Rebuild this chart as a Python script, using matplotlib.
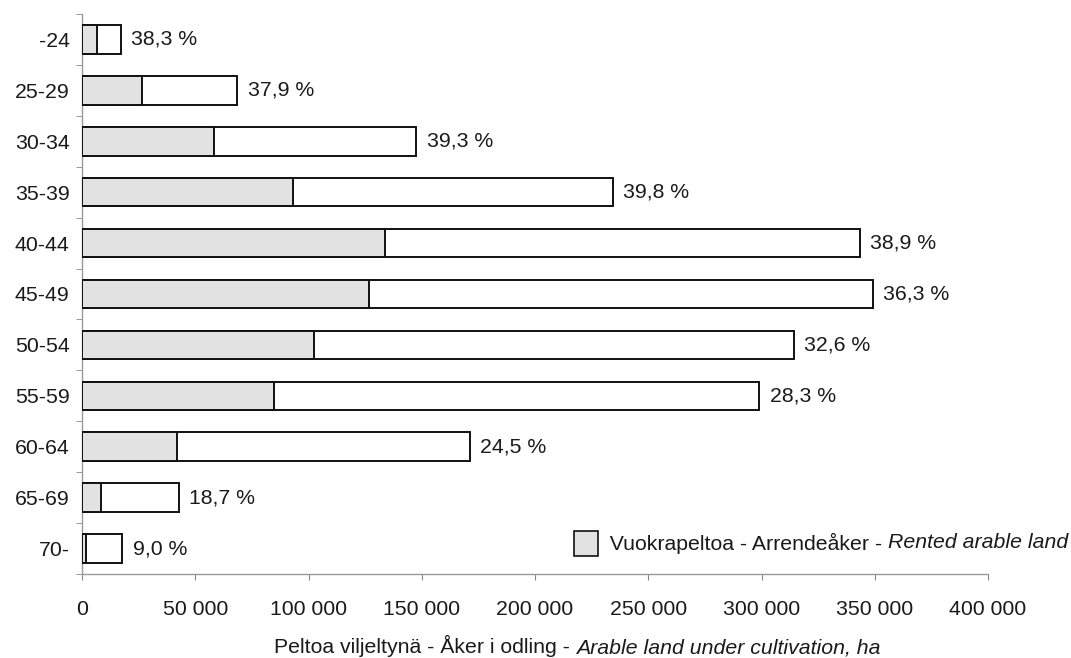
import matplotlib
matplotlib.use("Agg")
import matplotlib.pyplot as plt
from matplotlib.offsetbox import TextArea, HPacker, DrawingArea, AnchoredOffsetbox
from matplotlib.patches import Rectangle
from matplotlib.ticker import FixedLocator

plt.rcParams['font.family'] = ['Liberation Sans', 'DejaVu Sans']

categories = ["-24", "25-29", "30-34", "35-39", "40-44", "45-49",
              "50-54", "55-59", "60-64", "65-69", "70-"]
total_land = [17100, 68600, 147500, 234300, 343400, 349100,
              314200, 299000, 171300, 42800, 17800]
rented_land = [6600, 26500, 58200, 93300, 133900, 126600,
               102300, 84700, 41900, 8200, 1600]
pct_labels = ["38,3 %", "37,9 %", "39,3 %", "39,8 %", "38,9 %", "36,3 %",
              "32,6 %", "28,3 %", "24,5 %", "18,7 %", "9,0 %"]
x_ticks = [0, 50000, 100000, 150000, 200000, 250000, 300000, 350000, 400000]
x_tick_labels = ["0", "50 000", "100 000", "150 000", "200 000",
                 "250 000", "300 000", "350 000", "400 000"]

FS = 15.3
TC = "#1a1a1a"
fig = plt.figure(figsize=(10.71, 6.58), dpi=100)
ax = fig.add_axes([0.0766, 0.1277, 0.8459, 0.8510])

n = len(categories)
ypos = list(range(n))
h = 0.56
ax.barh(ypos, total_land, height=h, color="white", edgecolor="#111111", linewidth=1.4, zorder=2)
ax.barh(ypos, rented_land, height=h, color="#e2e2e2", edgecolor="#111111", linewidth=1.4, zorder=3)

for y, t, lab in zip(ypos, total_land, pct_labels):
    ax.annotate(lab, xy=(t, y), xytext=(7.5, 0), textcoords="offset points",
                va="center", ha="left", fontsize=FS, color=TC)

ax.set_xlim(0, 400000)
ax.set_ylim(n - 0.5, -0.5)
ax.set_xticks(x_ticks)
ax.set_xticklabels(x_tick_labels, fontsize=FS, color=TC)
ax.set_yticks(ypos)
ax.set_yticklabels(categories, fontsize=FS, color=TC)
ax.tick_params(axis="y", which="major", length=0, pad=9)
ax.yaxis.set_minor_locator(FixedLocator([i - 0.5 for i in range(n + 1)]))
ax.tick_params(axis="y", which="minor", length=4, color="#888888", direction="out")
ax.tick_params(axis="x", length=4, color="#888888", direction="out", pad=15)
for s in ["top", "right"]:
    ax.spines[s].set_visible(False)
for s in ["left", "bottom"]:
    ax.spines[s].set_color("#999999")
    ax.spines[s].set_linewidth(1.0)

# x label with italic part
xl = HPacker(children=[
    TextArea("Peltoa viljeltynä - Åker i odling - ", textprops=dict(fontsize=FS, color=TC)),
    TextArea("Arable land under cultivation, ha", textprops=dict(fontsize=FS, color=TC, style="italic")),
], align="baseline", pad=0, sep=0)
box = AnchoredOffsetbox(loc="center", child=xl, frameon=False,
                        bbox_to_anchor=(577 / 1071, 1 - 646 / 658),
                        bbox_transform=fig.transFigure, pad=0, borderpad=0)
fig.add_artist(box)

# legend
da = DrawingArea(17, 18, 0, 0)
da.add_artist(Rectangle((0, 0), 17, 18, facecolor="#e2e2e2", edgecolor="#111111", linewidth=1.2))
lg = HPacker(children=[
    da,
    TextArea("  Vuokrapeltoa - Arrendeåker - ", textprops=dict(fontsize=FS, color=TC)),
    TextArea("Rented arable land", textprops=dict(fontsize=FS, color=TC, style="italic")),
], align="center", pad=0, sep=0)
lbox = AnchoredOffsetbox(loc="center right", child=lg, frameon=False,
                         bbox_to_anchor=(1068 / 1071, 1 - 543 / 658),
                         bbox_transform=fig.transFigure, pad=0, borderpad=0)
fig.add_artist(lbox)

fig.savefig("out.png", dpi=100)
